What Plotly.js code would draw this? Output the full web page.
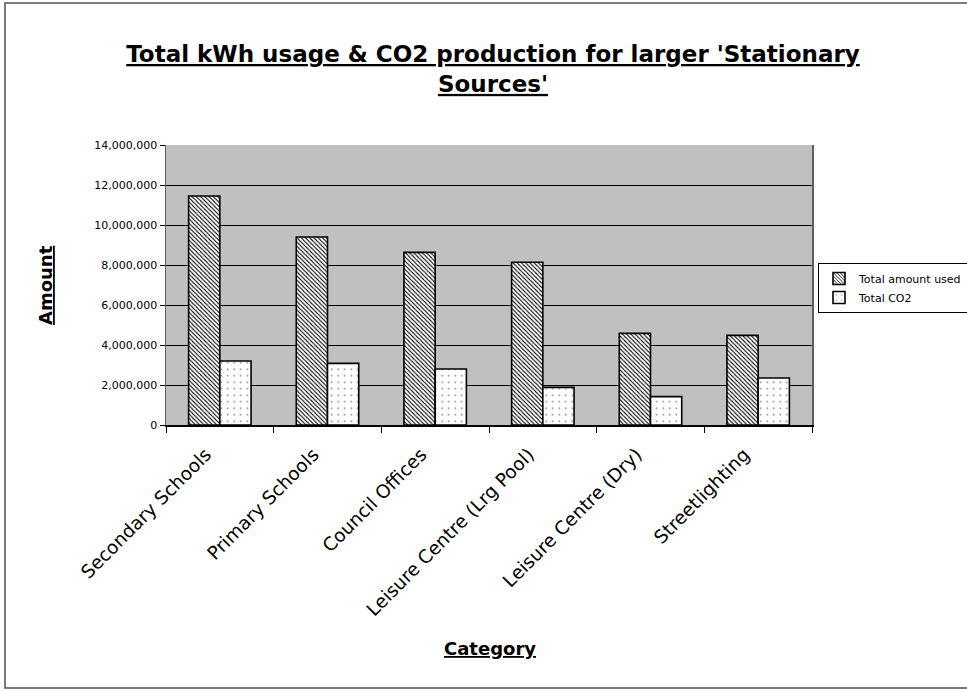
<!DOCTYPE html>
<html>
<head>
<meta charset="utf-8">
<script src="https://cdn.plot.ly/plotly-3.0.1.min.js"></script>
<style>
  html, body { margin: 0; padding: 0; background: #fff; }
  #chart { width: 967px; height: 690px; }
</style>
</head>
<body>
<div id="chart"></div>
<script>
// Stationary sources: energy used (kWh) and CO2 produced
const categories = [
  "Secondary Schools",
  "Primary Schools",
  "Council Offices",
  "Leisure Centre (Lrg Pool)",
  "Leisure Centre (Dry)",
  "Streetlighting"
];
const totalAmountUsed = [11450000, 9400000, 8630000, 8140000, 4580000, 4480000];
const totalCO2 = [3200000, 3080000, 2800000, 1880000, 1420000, 2350000];
const seriesNames = ["Total amount used", "Total CO2"];

const FONT = "DejaVu Sans, Arial, sans-serif";

const traces = [
  {
    type: "bar",
    name: seriesNames[0],
    x: categories,
    y: totalAmountUsed,
    marker: {
      color: "#ffffff",
      line: { color: "#000000", width: 1.6 },
      pattern: { shape: "\\", fgcolor: "#000000", bgcolor: "#ffffff", size: 3, solidity: 0.35 }
    },
    hoverinfo: "x+y"
  },
  {
    type: "bar",
    name: seriesNames[1],
    x: categories,
    y: totalCO2,
    marker: {
      color: "#ffffff",
      line: { color: "#000000", width: 1.6 },
      pattern: { shape: ".", fgcolor: "#808080", bgcolor: "#ffffff", size: 6.5, solidity: 0.06 }
    },
    hoverinfo: "x+y"
  }
];

const L = 166, R = 155, T = 145, B = 265;
const W = 967, H = 690;
const pw = W - L - R, ph = H - T - B;
// helpers converting page pixels to paper fractions
const px = v => (v - L) / pw;
const py = v => (H - B - v) / ph;

const layout = {
  width: W,
  height: H,
  margin: { l: L, r: R, t: T, b: B, autoexpand: false },
  paper_bgcolor: "#ffffff",
  plot_bgcolor: "#c0c0c0",
  font: { family: FONT, color: "#000000" },
  title: {
    text: "<b><u>Total kWh usage &amp; CO2 production for larger 'Stationary</u></b><br><b><u>Sources'</u></b>",
    font: { family: FONT, size: 23, color: "#000000" },
    xref: "container", x: 493 / W, xanchor: "center",
    yref: "container", y: 1 - 62 / H, yanchor: "top"
  },
  barmode: "group",
  bargap: 0.42,
  bargroupgap: 0,
  showlegend: true,
  legend: {
    x: px(818), xanchor: "left",
    y: py(263), yanchor: "top",
    bgcolor: "#ffffff",
    bordercolor: "#000000",
    borderwidth: 1,
    font: { family: FONT, size: 11, color: "#000000" },
    traceorder: "normal"
  },
  xaxis: {
    type: "category",
    tickangle: -45,
    tickfont: { family: FONT, size: 18.5, color: "#000000" },
    ticklabelshift: -14,
    ticklabelstandoff: 10,
    ticks: "outside",
    tickson: "boundaries",
    ticklen: 6,
    tickcolor: "#000000",
    showline: true,
    linecolor: "#000000",
    linewidth: 1.5,
    showgrid: false,
    zeroline: false,
    automargin: false
  },
  yaxis: {
    range: [0, 14000000],
    dtick: 2000000,
    tick0: 0,
    tickformat: ",d",
    tickfont: { family: FONT, size: 11, color: "#000000" },
    ticks: "outside",
    ticklen: 5,
    tickcolor: "#000000",
    showline: true,
    mirror: true,
    linecolor: "#606060",
    linewidth: 1.5,
    showgrid: true,
    gridcolor: "#000000",
    gridwidth: 1,
    zeroline: false,
    automargin: false
  },
  annotations: [
    {
      text: "<b><u>Amount</u></b>",
      xref: "paper", yref: "paper",
      x: px(45), y: 0.5,
      xanchor: "center", yanchor: "middle",
      textangle: -90,
      showarrow: false,
      font: { family: FONT, size: 18, color: "#000000" }
    },
    {
      text: "<b><u>Category</u></b>",
      xref: "paper", yref: "paper",
      x: px(490), y: py(648),
      xanchor: "center", yanchor: "middle",
      showarrow: false,
      font: { family: FONT, size: 18, color: "#000000" }
    }
  ],
  shapes: [
    {
      type: "rect",
      xref: "paper", yref: "paper",
      x0: px(5), x1: px(975),
      y0: py(688), y1: py(3),
      line: { color: "#505050", width: 1.5 },
      fillcolor: "rgba(0,0,0,0)",
      layer: "below"
    }
  ]
};

Plotly.newPlot("chart", traces, layout, { displayModeBar: false, staticPlot: true });
</script>
</body>
</html>
